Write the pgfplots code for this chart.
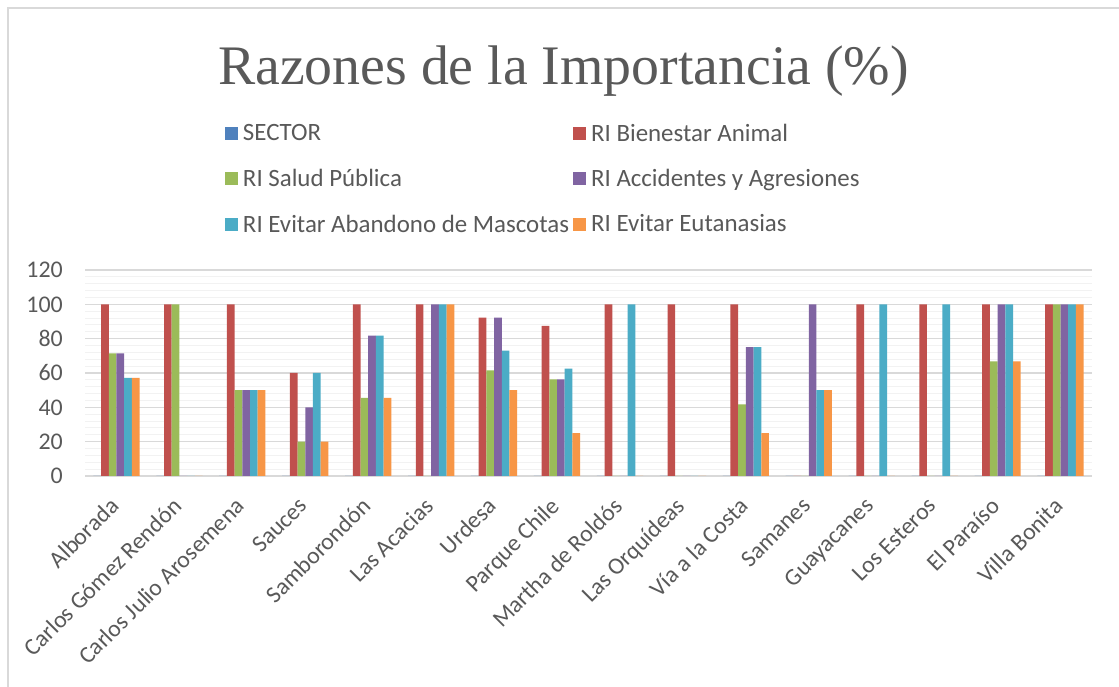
\documentclass[border=0pt]{standalone}
\usepackage{pgfplots}
\usepackage{pgfplotstable}
\pgfplotsset{compat=1.18}
\usepackage{fontspec}
\setmainfont{Carlito}
\newfontfamily\titlefont{Liberation Serif}
\definecolor{cS}{HTML}{4F81BD}
\definecolor{cBA}{HTML}{C0504D}
\definecolor{cSP}{HTML}{9BBB59}
\definecolor{cAA}{HTML}{8064A2}
\definecolor{cEA}{HTML}{4BACC6}
\definecolor{cEE}{HTML}{F79646}
\definecolor{txt}{HTML}{595959}
\definecolor{gmaj}{HTML}{D9D9D9}
\definecolor{gmin}{HTML}{F2F2F2}
\pgfplotstableread{
x S BA SP AA EA EE
0 0 100 71.4 71.4 57.1 57.1
1 0 100 100 0 0 0
2 0 100 50 50 50 50
3 0 60 20 40 60 20
4 0 100 45.5 81.8 81.8 45.5
5 0 100 0 100 100 100
6 0 92.3 61.5 92.3 73.1 50
7 0 87.5 56.25 56.25 62.5 25
8 0 100 0 0 100 0
9 0 100 0 0 0 0
10 0 100 41.7 75 75 25
11 0 0 0 100 50 50
12 0 100 0 0 100 0
13 0 100 0 0 100 0
14 0 100 66.7 100 100 66.7
15 0 100 100 100 100 100
}\data
\begin{document}
\begin{tikzpicture}[x=1bp,y=1bp]
\useasboundingbox (0,0) rectangle (1119,687);
\fill[white] (0,0) rectangle (1119,687);
\draw[gmaj, line width=1.5bp] (8,-2) -- (8,679) -- (1121,679);
\begin{axis}[
  at={(85bp,211bp)}, anchor=south west,
  width=1007bp, height=206bp, scale only axis,
  xmin=-0.5, xmax=15.5, ymin=0, ymax=120,
  ybar=0pt, bar width=7.7bp,
  xtick={0,...,15},
  xticklabels={Alborada,Carlos Gómez Rendón,Carlos Julio Arosemena,Sauces,Samborondón,Las Acacias,Urdesa,Parque Chile,Martha de Roldós,Las Orquídeas,Vía a la Costa,Samanes,Guayacanes,Los Esteros,El Paraíso,Villa Bonita},
  ytick={0,20,...,120}, minor y tick num=4,
  ymajorgrids, yminorgrids,
  major grid style={gmaj, line width=1.2bp},
  minor grid style={gmin, line width=1bp},
  major tick length=0pt, minor tick length=0pt,
  axis line style={draw=none},
  tick label style={font=\fontsize{24}{28}\selectfont, text=txt},
  /pgf/number format/assume math mode=true,
  yticklabel style={anchor=east, inner sep=0pt, xshift=-22bp},
  xticklabel style={xshift=-8bp, yshift=-20bp, rotate=45, anchor=north east, inner sep=0pt, font=\fontsize{23.8}{28}\selectfont},
  legend columns=2, legend cell align=left,
  legend image code/.code={\fill[#1] (0bp,-6.5bp) rectangle (13bp,6.5bp);},
  legend style={at={(0.139,1.708)}, anchor=north west, draw=none, fill=none,
    inner sep=0pt, outer sep=0pt, font=\fontsize{25}{29}\selectfont, text=txt,
    row sep=26.5bp, nodes={inner sep=0pt},
    /tikz/every odd column/.append style={column sep=5bp},
    /tikz/every even column/.append style={column sep=4bp}},
]
\addplot[fill=cS, draw=none] table[x=x,y=S]{\data};
\addplot[fill=cBA, draw=none] table[x=x,y=BA]{\data};
\addplot[fill=cSP, draw=none] table[x=x,y=SP]{\data};
\addplot[fill=cAA, draw=none] table[x=x,y=AA]{\data};
\addplot[fill=cEA, draw=none] table[x=x,y=EA]{\data};
\addplot[fill=cEE, draw=none] table[x=x,y=EE]{\data};
\legend{SECTOR,RI Bienestar Animal,RI Salud Pública,RI Accidentes y Agresiones,RI Evitar Abandono de Mascotas,RI Evitar Eutanasias}
\end{axis}
\node[anchor=base, font=\titlefont\fontsize{56}{60}\selectfont, text=txt] at (563.5,602) {Razones de la Importancia (\%)};
\end{tikzpicture}
\end{document}
